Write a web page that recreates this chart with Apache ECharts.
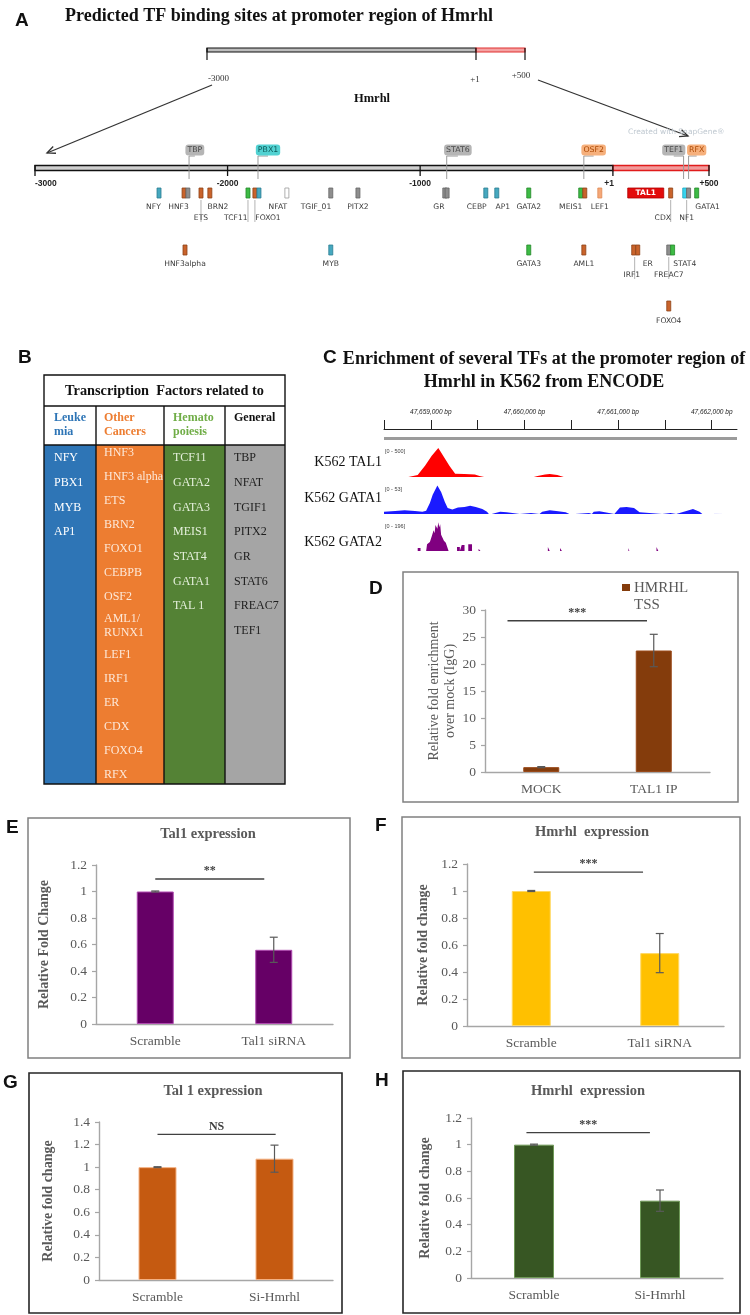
<!DOCTYPE html>
<html><head><meta charset="utf-8"><title>TF binding at Hmrhl promoter</title>
<script src="https://cdn.jsdelivr.net/npm/echarts@6/dist/echarts.min.js"></script>
<style>html,body{margin:0;padding:0;background:#fff;}#chart{width:750px;height:1315px;}</style>
</head><body><div id="chart"></div>
<script>
// ======================= DATA =======================
// ---- Panel A : predicted TF binding sites (bp relative to TSS) ----
const promoterTicks = [-3000, -2000, -1000, 1, 500];
const promoterTickLabels = ['-3000', '-2000', '-1000', '+1', '+500'];
const trackStart = [-3000, 1];
const trackEnd = [1, 500];
const siteName  = ['NFY','HNF3','TBP','ETS','BRN2','TCF11','FOXO1','PBX1','NFAT','TGIF_01','PITX2','GR','STAT6','CEBP','AP1','GATA2','MEIS1','OSF2','LEF1','CDX','NF1','RFX','GATA1','HNF3alpha','MYB','GATA3','AML1','IRF1','ER','FREAC7','STAT4','FOXO4'];
const siteBp    = [-2356,-2226,-2206,-2138,-2092,-1894,-1858,-1837,-1692,-1464,-1323,-872,-860,-659,-602,-436,-166,-145,-67,301,374,394,436,-2221,-1464,-436,-150,109,130,291,311,291];
const siteRow   = [1,1,1,1,1,1,1,1,1,1,1,1,1,1,1,1,1,1,1,1,1,1,1,3,3,3,3,3,3,3,3,4];
const siteClass = ['leuk','canc','gen','canc','canc','hema','canc','leuk','genO','gen','gen','gen','gen','leuk','leuk','hema','hema','canc','cancL','canc','cyan','gen','hema','canc','leuk','hema','canc','canc','canc','gen','hema','canc'];
const labelText = ['NFY','HNF3','BRN2','NFAT','TGIF_01','PITX2','GR','CEBP','AP1','GATA2','MEIS1','LEF1','GATA1','ETS','TCF11','FOXO1','CDX','NF1','HNF3alpha','MYB','GATA3','AML1','ER','STAT4','IRF1','FREAC7','FOXO4'];
const labelBp   = [-2385,-2255,-2050,-1739,-1541,-1323,-903,-706,-571,-436,-218,-67,493,-2138,-1957,-1790,260,384,-2221,-1464,-436,-150,182,374,99,291,291];
const labelLine = [1,1,1,1,1,1,1,1,1,1,1,1,1,2,2,2,2,2,3,3,3,3,3,3,4,4,5];
const connBp     = [-2138,-1894,-1858,301,384,114,291];
const connRow    = [1,1,1,1,1,3,3];
const connLine   = [2,2,2,2,2,4,4];
const boxText    = ['TBP','PBX1','STAT6','OSF2','TEF1','RFX'];
const boxLineBp  = [-2200,-1842,-862,-150,368,394];
const boxBp      = [-2170,-1790,-804,-99,317,436];
const boxClass   = ['gen','pbx','gen','osf','gen','osf'];
const featureName = ['TAL1'];
const featureStart = [78];
const featureEnd = [265];

// ---- Panel B : TF table ----
const tableTitle = 'Transcription  Factors related to';
const tableGroups = ['Leuke\nmia', 'Other\nCancers', 'Hemato\npoiesis', 'General'];
const tfLeukemia = ['NFY','PBX1','MYB','AP1'];
const tfOtherCancers = ['HNF3','HNF3 alpha','ETS','BRN2','FOXO1','CEBPB','OSF2','AML1/\nRUNX1','LEF1','IRF1','ER','CDX','FOXO4','RFX'];
const tfHematopoiesis = ['TCF11','GATA2','GATA3','MEIS1','STAT4','GATA1','TAL 1'];
const tfGeneral = ['TBP','NFAT','TGIF1','PITX2','GR','STAT6','FREAC7','TEF1'];

// ---- Panel C : ENCODE ChIP-seq signal (genomic bp, signal) ----
const encodeRange = [47658500, 47662270];
const rulerTicks = [47658500,47659000,47659500,47660000,47660500,47661000,47661500,47662000];
const rulerLabels = [47659000,47660000,47661000,47662000];
const trackNames = ['K562 TAL1','K562 GATA1','K562 GATA2'];
const trackMax = [500, 53, 196];
const tal1Signal = [[47658760,0],[47658770,17],[47658860,33],[47658940,190],[47659010,355],[47659080,485],[47659140,335],[47659200,185],[47659260,55],[47659360,50],[47659470,40],[47659520,17],[47659570,0],
  [47660100,0],[47660140,17],[47660220,40],[47660270,50],[47660350,33],[47660420,0]];
const gata1Signal = [[47658500,0],[47658500,4],[47658620,5.5],[47658720,7],[47658830,5.5],[47658910,4],[47658950,6],[47658990,20],[47659020,35],[47659070,52],[47659110,40],[47659150,22],[47659180,11],[47659230,8],[47659290,12],[47659360,13],[47659420,15],[47659480,13],[47659550,9],[47659600,4],[47659620,0],
  [47659650,0],[47659660,3],[47659740,4],[47659810,3],[47659820,0],
  [47659950,0],[47659960,2],[47660070,2],[47660080,0],
  [47660160,0],[47660190,4],[47660270,7],[47660360,5],[47660440,3],[47660480,0],
  [47660540,0],[47660550,2],[47660690,2],[47660700,0],
  [47660720,0],[47660740,4],[47660800,5],[47660860,3],[47660870,0],
  [47660960,0],[47660980,3],[47661020,12],[47661090,13],[47661170,11],[47661230,3],[47661240,0],
  [47661470,0],[47661480,2],[47661560,2],[47661570,0],
  [47661620,0],[47661640,3],[47661720,5],[47661800,9],[47661870,4],[47661900,0],
  [47662020,0],[47662030,2],[47662150,2],[47662160,0]];
const gata2Signal = [[47658860,0],[47658860,20],[47658890,20],[47658890,0],
  [47658950,0],[47658960,45],[47658990,60],[47659010,100],[47659030,140],[47659040,120],[47659050,175],[47659070,150],[47659080,195],[47659090,160],[47659100,180],[47659110,110],[47659120,120],[47659140,70],[47659160,55],[47659180,50],[47659190,0],
  [47659280,0],[47659280,27],[47659310,27],[47659310,0],
  [47659330,0],[47659330,40],[47659360,40],[47659360,0],
  [47659400,0],[47659400,45],[47659440,45],[47659440,0],
  [47659510,0],[47659510,15],[47659530,15],[47659530,0],
  [47660250,0],[47660250,27],[47660270,27],[47660270,0],
  [47660380,0],[47660380,20],[47660400,20],[47660400,0],
  [47661110,0],[47661110,20],[47661120,20],[47661120,0],
  [47661410,0],[47661410,27],[47661430,27],[47661430,0]];

// ---- Panel D : ChIP-qPCR ----
const dCategories = ['MOCK','TAL1 IP'];
const dValues = [0.9, 22.5];
const dErrors = [0.1, 3.0];
const dSignif = [-0.3, 0.94, 28, '***'];
// ---- Panel E ----
const eCategories = ['Scramble','Tal1 siRNA'];
const eValues = [1.0, 0.56];
const eErrors = [0.004, 0.095];
const eSignif = [0, 0.92, 1.094, '**'];
// ---- Panel F ----
const fCategories = ['Scramble','Tal1 siRNA'];
const fValues = [1.0, 0.54];
const fErrors = [0.004, 0.145];
const fSignif = [0.02, 0.87, 1.14, '***'];
// ---- Panel G ----
const gCategories = ['Scramble','Si-Hmrhl'];
const gValues = [1.0, 1.075];
const gErrors = [0.004, 0.12];
const gSignif = [0, 1.01, 1.29, 'NS'];
// ---- Panel H ----
const hCategories = ['Scramble','Si-Hmrhl'];
const hValues = [1.0, 0.58];
const hErrors = [0.004, 0.08];
const hSignif = [-0.06, 0.92, 1.09, '***'];

// ======================= STYLE / LAYOUT =======================
const SERIF = '"Liberation Serif","Times New Roman",serif';
const SANS = '"Liberation Sans",Arial,sans-serif';
const DV = '"DejaVu Sans",Verdana,sans-serif';
const AX = '#a6a6a6', TXT = '#595959';

const CLS = {
  leuk: {fill:'#46a8bf', stroke:'#2b7e92'},
  canc: {fill:'#c9632b', stroke:'#8e4216'},
  cancL:{fill:'#f5a878', stroke:'#e08a55'},
  hema: {fill:'#3dbb45', stroke:'#23892a'},
  gen:  {fill:'#8e8e8e', stroke:'#666666'},
  genO: {fill:'#ffffff', stroke:'#9a9a9a'},
  cyan: {fill:'#38d4ee', stroke:'#1aa8c3'}
};
const BOXCLS = {
  gen: {bg:'#b5b5b5', fg:'#4a4a4a'},
  pbx: {bg:'#52d2d2', fg:'#0c5a5a'},
  osf: {bg:'#f6b07c', fg:'#ad4a05'}
};
const TRACK_Y = 168, BOX_Y = 150;
const ROW_Y = {1:193, 3:250, 4:306};
const LINE_Y = {1:207, 2:218, 3:264, 4:275, 5:321};

const grids = [], xAxes = [], yAxes = [], series = [], G = [];
function addGrid(g){ grids.push(Object.assign({containLabel:false, outerBoundsMode:'none'}, g)); return grids.length-1; }

// graphic helpers
function txt(x, y, text, font, fill, align, va, extra){
  align = align || 'left'; va = va || 'middle';
  G.push({type:'text', silent:true, z:50, style:Object.assign({x:x, y:y, text:text, font:font, fill:fill,
    align:align, verticalAlign:va, textAlign:align, textVerticalAlign:va}, extra||{})});
}
function rect(x, y, w, h, fill, stroke, lw, z){
  G.push({type:'rect', silent:true, z:z==null?1:z, shape:{x:x,y:y,width:w,height:h}, style:{fill:fill, stroke:stroke||null, lineWidth:lw||0}});
}
function line(x1, y1, x2, y2, stroke, lw){
  G.push({type:'line', silent:true, z:5, shape:{x1:x1,y1:y1,x2:x2,y2:y2}, style:{stroke:stroke, lineWidth:lw||1}});
}
function arrow(x1, y1, x2, y2){
  line(x1,y1,x2,y2,'#333',1.3);
  const a = Math.atan2(y2-y1, x2-x1), L = 9, s = 0.42;
  G.push({type:'polyline', silent:true, z:5, shape:{points:[[x2-L*Math.cos(a-s), y2-L*Math.sin(a-s)],[x2,y2],[x2-L*Math.cos(a+s), y2-L*Math.sin(a+s)]]}, style:{stroke:'#333', lineWidth:1.3, fill:null}});
}

// ======================= PANEL A =======================
txt(15, 21, 'A', 'bold 19px '+SANS, '#111');
txt(279, 16, 'Predicted TF binding sites at promoter region of Hmrhl', 'bold 18px '+SERIF, '#111', 'center');
// overview of the Hmrhl locus
rect(207, 48, 269, 4, '#bdbdbd', '#111', 1.2, 3);
rect(476, 48, 49, 4, '#f5a3a3', '#e03030', 1.2, 3);
line(207, 48, 207, 60, '#111', 1.2); line(476, 48, 476, 60, '#111', 1.2); line(525, 48, 525, 60, '#111', 1.2);
txt(208, 79, '-3000', '9px '+SERIF, '#333');
txt(475, 80, '+1', '9px '+SERIF, '#333', 'center');
txt(521, 76, '+500', '9px '+SERIF, '#333', 'center');
txt(372, 99, 'Hmrhl', 'bold 12.5px '+SERIF, '#111', 'center');
arrow(212, 85, 47, 153);
arrow(538, 80, 688, 136);
txt(628, 132, 'Created with SnapGene\u00ae', '7.5px '+DV, '#bfc8d0');

const gA = addGrid({left:35, top:140, width:674, height:200});
xAxes.push({gridIndex:gA, type:'value', min:-3000, max:500, show:false});
yAxes.push({gridIndex:gA, type:'value', min:0, max:1, show:false});
const axA = xAxes.length-1;
function xA(api, bp){ return api.coord([bp, 0])[0]; }
// track
series.push({type:'custom', xAxisIndex:axA, yAxisIndex:axA, silent:true, z:3,
  data: trackStart.map((s,i)=>[s, trackEnd[i], i]),
  renderItem(p, api){
    const x0 = xA(api, api.value(0)), x1 = xA(api, api.value(1)); const red = api.value(2) === 1;
    return {type:'rect', shape:{x:x0, y:TRACK_Y-2.5, width:x1-x0, height:5},
      style:{fill: red ? '#f29a9a' : '#cfcfcf', stroke: red ? '#e01b1b' : '#111', lineWidth:1.3}};
  }});
// ticks
series.push({type:'custom', xAxisIndex:axA, yAxisIndex:axA, silent:true, z:4,
  data: promoterTicks.map((t,i)=>[t, i]),
  renderItem(p, api){
    const i = api.value(1), x = xA(api, api.value(0));
    const align = i === 0 ? 'left' : (promoterTicks[i] === 1 ? 'right' : 'center');
    return {type:'group', children:[
      {type:'line', shape:{x1:x, y1:TRACK_Y-3, x2:x, y2:TRACK_Y+8}, style:{stroke:'#111', lineWidth:1.3}},
      {type:'text', style:{x: align==='right'? x+1 : x, y:TRACK_Y+16, text:promoterTickLabels[i], font:'bold 8.5px '+SANS, fill:'#222', align:align, verticalAlign:'middle', textAlign:align, textVerticalAlign:'middle'}}
    ]};
  }});
// annotation boxes above track
series.push({type:'custom', xAxisIndex:axA, yAxisIndex:axA, silent:true, z:4,
  data: boxLineBp.map((b,i)=>[b, boxBp[i], i]),
  renderItem(p, api){
    const i = api.value(2), xl = xA(api, api.value(0)), xb = xA(api, api.value(1));
    const c = BOXCLS[boxClass[i]];
    return {type:'group', children:[
      {type:'line', shape:{x1:xl, y1:BOX_Y+6, x2:xl, y2:TRACK_Y+11}, style:{stroke:'#9a9a9a', lineWidth:1}},
      {type:'line', shape:{x1:xb, y1:BOX_Y+6, x2:xl, y2:BOX_Y+6}, style:{stroke:'#9a9a9a', lineWidth:1}},
      {type:'text', z2:10, style:{x:xb, y:BOX_Y, text:boxText[i], font:'7.8px '+DV, fill:c.fg, backgroundColor:c.bg, padding:[2,2,1,2], borderRadius:3,
        align:'center', verticalAlign:'middle', textAlign:'center', textVerticalAlign:'middle'}}
    ]};
  }});
// feature (TAL1 gene start)
series.push({type:'custom', xAxisIndex:axA, yAxisIndex:axA, silent:true, z:4,
  data: featureStart.map((s,i)=>[s, featureEnd[i], i]),
  renderItem(p, api){
    const x0 = xA(api, api.value(0)), x1 = xA(api, api.value(1));
    return {type:'group', children:[
      {type:'rect', shape:{x:x0, y:ROW_Y[1]-5, width:x1-x0, height:10}, style:{fill:'#e30b0b', stroke:'#b00000', lineWidth:0.8}},
      {type:'text', style:{x:(x0+x1)/2, y:ROW_Y[1]+0.5, text:featureName[api.value(2)], font:'bold 7.5px '+DV, fill:'#fff', align:'center', verticalAlign:'middle', textAlign:'center', textVerticalAlign:'middle'}}
    ]};
  }});
// connectors
series.push({type:'custom', xAxisIndex:axA, yAxisIndex:axA, silent:true, z:4,
  data: connBp.map((b,i)=>[b, i]),
  renderItem(p, api){
    const i = api.value(1), x = xA(api, api.value(0));
    return {type:'line', shape:{x1:x, y1:ROW_Y[connRow[i]]+7, x2:x, y2:LINE_Y[connLine[i]]+4}, style:{stroke:'#aaaaaa', lineWidth:0.9}};
  }});
// site marks
series.push({type:'custom', xAxisIndex:axA, yAxisIndex:axA, silent:true, z:5,
  data: siteBp.map((b,i)=>[b, i]),
  renderItem(p, api){
    const i = api.value(1), x = xA(api, api.value(0)), y = ROW_Y[siteRow[i]];
    const c = CLS[siteClass[i]];
    return {type:'rect', shape:{x:x-2, y:y-5, width:4, height:10}, style:{fill:c.fill, stroke:c.stroke, lineWidth:0.8}};
  }});
// site labels
series.push({type:'custom', xAxisIndex:axA, yAxisIndex:axA, silent:true, z:5,
  data: labelBp.map((b,i)=>[b, i]),
  renderItem(p, api){
    const i = api.value(1), x = xA(api, api.value(0));
    return {type:'text', style:{x:x, y:LINE_Y[labelLine[i]], text:labelText[i], font:'7.6px '+DV, fill:'#3a3a3a', align:'center', verticalAlign:'middle', textAlign:'center', textVerticalAlign:'middle'}};
  }});

// ======================= PANEL B (table) =======================
txt(18, 358, 'B', 'bold 19px '+SANS, '#111');
(function(){
  const X = [44, 96, 164, 225, 285], TOP = 375, H1 = 406, H2 = 445, BOT = 784;
  const fills = ['#2e75b6', '#ed7d31', '#548235', '#a5a5a5'];
  const headColors = ['#2e75b6', '#ed7d31', '#70ad47', '#111'];
  const itemColors = ['#ffffff', '#fde8d8', '#e5f0dc', '#1e1e1e'];
  const textX = [54, 104, 173, 234];
  const cols = [tfLeukemia, tfOtherCancers, tfHematopoiesis, tfGeneral];
  for (let c = 0; c < 4; c++) rect(X[c], H2, X[c+1]-X[c], BOT-H2, fills[c], null, 0, 1);
  rect(X[0], TOP, X[4]-X[0], BOT-TOP, 'none', '#111', 1.4, 6);
  line(X[0], H1, X[4], H1, '#111', 1.4);
  line(X[0], H2, X[4], H2, '#111', 1.4);
  for (let c = 1; c < 4; c++) line(X[c], H1, X[c], BOT, '#111', 1.4);
  txt((X[0]+X[4])/2, 391, tableTitle, 'bold 14.3px '+SERIF, '#111', 'center');
  for (let c = 0; c < 4; c++) txt(textX[c], 411, tableGroups[c], 'bold 12px '+SERIF, headColors[c], 'left', 'top', {lineHeight:14});
  for (let c = 0; c < 4; c++) {
    let y = c === 1 ? 453 : 458;
    const step = c === 1 ? 24 : 24.7;
    cols[c].forEach(t => {
      const multi = t.indexOf('\n') >= 0;
      const yy = multi ? y + 5 : y;
      txt(textX[c], yy, t, '12px '+SERIF, itemColors[c], 'left', 'middle', {lineHeight:14});
      y += step + (multi ? 10 : 0);
    });
  }
})();

// ======================= PANEL C (ENCODE) =======================
txt(323, 358, 'C', 'bold 19px '+SANS, '#111');
txt(544, 359, 'Enrichment of several TFs at the promoter region of', 'bold 18px '+SERIF, '#111', 'center');
txt(544, 382, 'Hmrhl in K562 from ENCODE', 'bold 18px '+SERIF, '#111', 'center');
rect(384, 437, 353, 3, '#9b9b9b', null, 0, 3);
const fmtBp = v => String(v).replace(/\B(?=(\d{3})+(?!\d))/g, ',') + ' bp';
const gRuler = addGrid({left:384, top:405, width:353, height:24});
xAxes.push({gridIndex:gRuler, type:'value', min:encodeRange[0], max:encodeRange[1], interval:500, position:'bottom',
  axisLine:{show:true, onZero:false, lineStyle:{color:'#222', width:1}},
  axisTick:{show:true, inside:true, length:9, customValues:rulerTicks, lineStyle:{color:'#222', width:1}},
  axisLabel:{show:true, inside:true, margin:13, customValues:rulerLabels, fontSize:6.5, fontFamily:SANS, fontStyle:'italic', color:'#222', formatter:fmtBp},
  splitLine:{show:false}});
yAxes.push({gridIndex:gRuler, type:'value', min:0, max:1, show:false});
const trackTop = [447, 485, 522], trackH = [30, 29, 29];
const trackColor = ['#ff0000', '#1a1aff', '#800080'];
const trackLabelY = [462, 498, 542];
const trackData = [tal1Signal, gata1Signal, gata2Signal];
for (let t = 0; t < 3; t++) {
  const g = addGrid({left:384, top:trackTop[t], width:353, height:trackH[t]});
  xAxes.push({gridIndex:g, type:'value', min:encodeRange[0], max:encodeRange[1], show:false});
  yAxes.push({gridIndex:g, type:'value', min:0, max:trackMax[t], show:false});
  series.push({type:'line', xAxisIndex:g, yAxisIndex:g, data:trackData[t], symbol:'none', silent:true,
    lineStyle:{width:0, color:trackColor[t]}, areaStyle:{color:trackColor[t], opacity:1}, z:3});
  txt(385, trackTop[t]+1, '[0 - ' + trackMax[t] + ']', '5.5px '+SANS, '#444', 'left', 'top');
  txt(382, trackLabelY[t], trackNames[t], '14px '+SERIF, '#111', 'right');
}

// ======================= BAR PANELS (D-H) =======================
function barPanel(o){
  const g = addGrid(o.grid);
  xAxes.push({gridIndex:g, type:'category', data:o.cats,
    axisLine:{show:true, lineStyle:{color:AX, width:1.4}}, axisTick:{show:false},
    axisLabel:{color:TXT, fontFamily:SERIF, fontSize:o.fs, margin:10}, splitLine:{show:false}});
  yAxes.push({gridIndex:g, type:'value', min:0, max:o.max, interval:o.step,
    axisLine:{show:true, lineStyle:{color:AX, width:1.4}}, axisTick:{show:true, length:4, lineStyle:{color:AX, width:1.2}},
    axisLabel:{color:TXT, fontFamily:SERIF, fontSize:o.fs, margin:9}, splitLine:{show:false},
    name:o.yName, nameLocation:'middle', nameGap:o.nameGap, nameRotate:90,
    nameTextStyle:{color:TXT, fontFamily:SERIF, fontSize:14, fontWeight:o.nameBold ? 'bold' : 'normal', lineHeight:16}});
  series.push({type:'bar', xAxisIndex:g, yAxisIndex:g, data:o.vals, barWidth:o.barW, silent:true, z:3,
    itemStyle:{color:o.color, borderColor:o.border, borderWidth:1}});
  series.push({type:'custom', xAxisIndex:g, yAxisIndex:g, silent:true, z:6,
    data:o.vals.map((v,i)=>[i, v-o.errs[i], v+o.errs[i]]), encode:{x:0, y:[1,2]},
    renderItem(p, api){
      const lo = api.coord([api.value(0), api.value(1)]), hi = api.coord([api.value(0), api.value(2)]);
      const x = lo[0], w = 4, st = {stroke:'#595959', lineWidth:1.2};
      return {type:'group', children:[
        {type:'line', shape:{x1:x, y1:lo[1], x2:x, y2:hi[1]}, style:st},
        {type:'line', shape:{x1:x-w, y1:lo[1], x2:x+w, y2:lo[1]}, style:st},
        {type:'line', shape:{x1:x-w, y1:hi[1], x2:x+w, y2:hi[1]}, style:st}]};
    }});
  series.push({type:'custom', xAxisIndex:g, yAxisIndex:g, silent:true, z:6,
    data:[[0, o.sig[2], 0]], encode:{x:0, y:1},
    renderItem(p, api){
      const y = o.sig[2];
      const c0 = api.coord([0, y]), c1 = api.coord([1, y]);
      const X = f => c0[0] + (c1[0]-c0[0]) * f;
      const xa = X(o.sig[0]), xb = X(o.sig[1]);
      return {type:'group', children:[
        {type:'line', shape:{x1:xa, y1:c0[1], x2:xb, y2:c0[1]}, style:{stroke:'#404040', lineWidth:1.4}},
        {type:'text', style:{x:(xa+xb)/2, y:c0[1]-2, text:o.sig[3], font:'bold 12px '+SERIF, fill:'#404040', align:'center', verticalAlign:'bottom', textAlign:'center', textVerticalAlign:'bottom'}}]};
    }});
}

// Panel D
txt(369, 589, 'D', 'bold 19px '+SANS, '#111');
rect(403, 572, 335, 230, 'none', '#808080', 1.5, 2);
rect(622, 584, 8, 7, '#843c0c', null, 0, 5);
txt(634, 588, 'HMRHL', '15px '+SERIF, TXT);
txt(634, 605, 'TSS', '15px '+SERIF, TXT);
barPanel({grid:{left:485, top:610, width:225, height:162}, cats:dCategories, vals:dValues, errs:dErrors, sig:dSignif,
  max:30, step:5, color:'#843c0c', border:'#9a4a1a', barW:36, fs:13.5,
  yName:'Relative fold enrichment\nover mock (IgG)', nameGap:26, nameBold:false});

// Panel E
txt(6, 828, 'E', 'bold 19px '+SANS, '#111');
rect(28, 818, 322, 240, 'none', '#808080', 1.5, 2);
txt(208, 834, 'Tal1 expression', 'bold 14.5px '+SERIF, TXT, 'center');
barPanel({grid:{left:96, top:865, width:237, height:159}, cats:eCategories, vals:eValues, errs:eErrors, sig:eSignif,
  max:1.2, step:0.2, color:'#660066', border:'#b04ab0', barW:37, fs:13.5,
  yName:'Relative Fold Change', nameGap:44, nameBold:true});

// Panel F
txt(375, 826, 'F', 'bold 19px '+SANS, '#111');
rect(402, 817, 338, 241, 'none', '#808080', 1.5, 2);
txt(592, 832, 'Hmrhl  expression', 'bold 14.5px '+SERIF, TXT, 'center');
barPanel({grid:{left:467, top:864, width:257, height:162}, cats:fCategories, vals:fValues, errs:fErrors, sig:fSignif,
  max:1.2, step:0.2, color:'#ffc000', border:'#ffd966', barW:39, fs:13.5,
  yName:'Relative fold change', nameGap:36, nameBold:true});

// Panel G
txt(3, 1083, 'G', 'bold 19px '+SANS, '#111');
rect(29, 1073, 313, 240, 'none', '#262626', 1.6, 2);
txt(213, 1091, 'Tal 1 expression', 'bold 14.5px '+SERIF, TXT, 'center');
barPanel({grid:{left:99, top:1122, width:234, height:158}, cats:gCategories, vals:gValues, errs:gErrors, sig:gSignif,
  max:1.4, step:0.2, color:'#c55a11', border:'#f4b183', barW:38, fs:13.5,
  yName:'Relative fold change', nameGap:43, nameBold:true});

// Panel H
txt(375, 1081, 'H', 'bold 19px '+SANS, '#111');
rect(403, 1071, 337, 242, 'none', '#262626', 1.6, 2);
txt(588, 1091, 'Hmrhl  expression', 'bold 14.5px '+SERIF, TXT, 'center');
barPanel({grid:{left:471, top:1118, width:252, height:160}, cats:hCategories, vals:hValues, errs:hErrors, sig:hSignif,
  max:1.2, step:0.2, color:'#375623', border:'#6f9a58', barW:40, fs:13.5,
  yName:'Relative fold change', nameGap:38, nameBold:true});

// ======================= RENDER =======================
const chart = echarts.init(document.getElementById('chart'), null, {renderer:'canvas'});
chart.setOption({
  animation:false, backgroundColor:'#ffffff',
  grid:grids, xAxis:xAxes, yAxis:yAxes, series:series,
  graphic:{elements:G}
});
</script></body></html>
